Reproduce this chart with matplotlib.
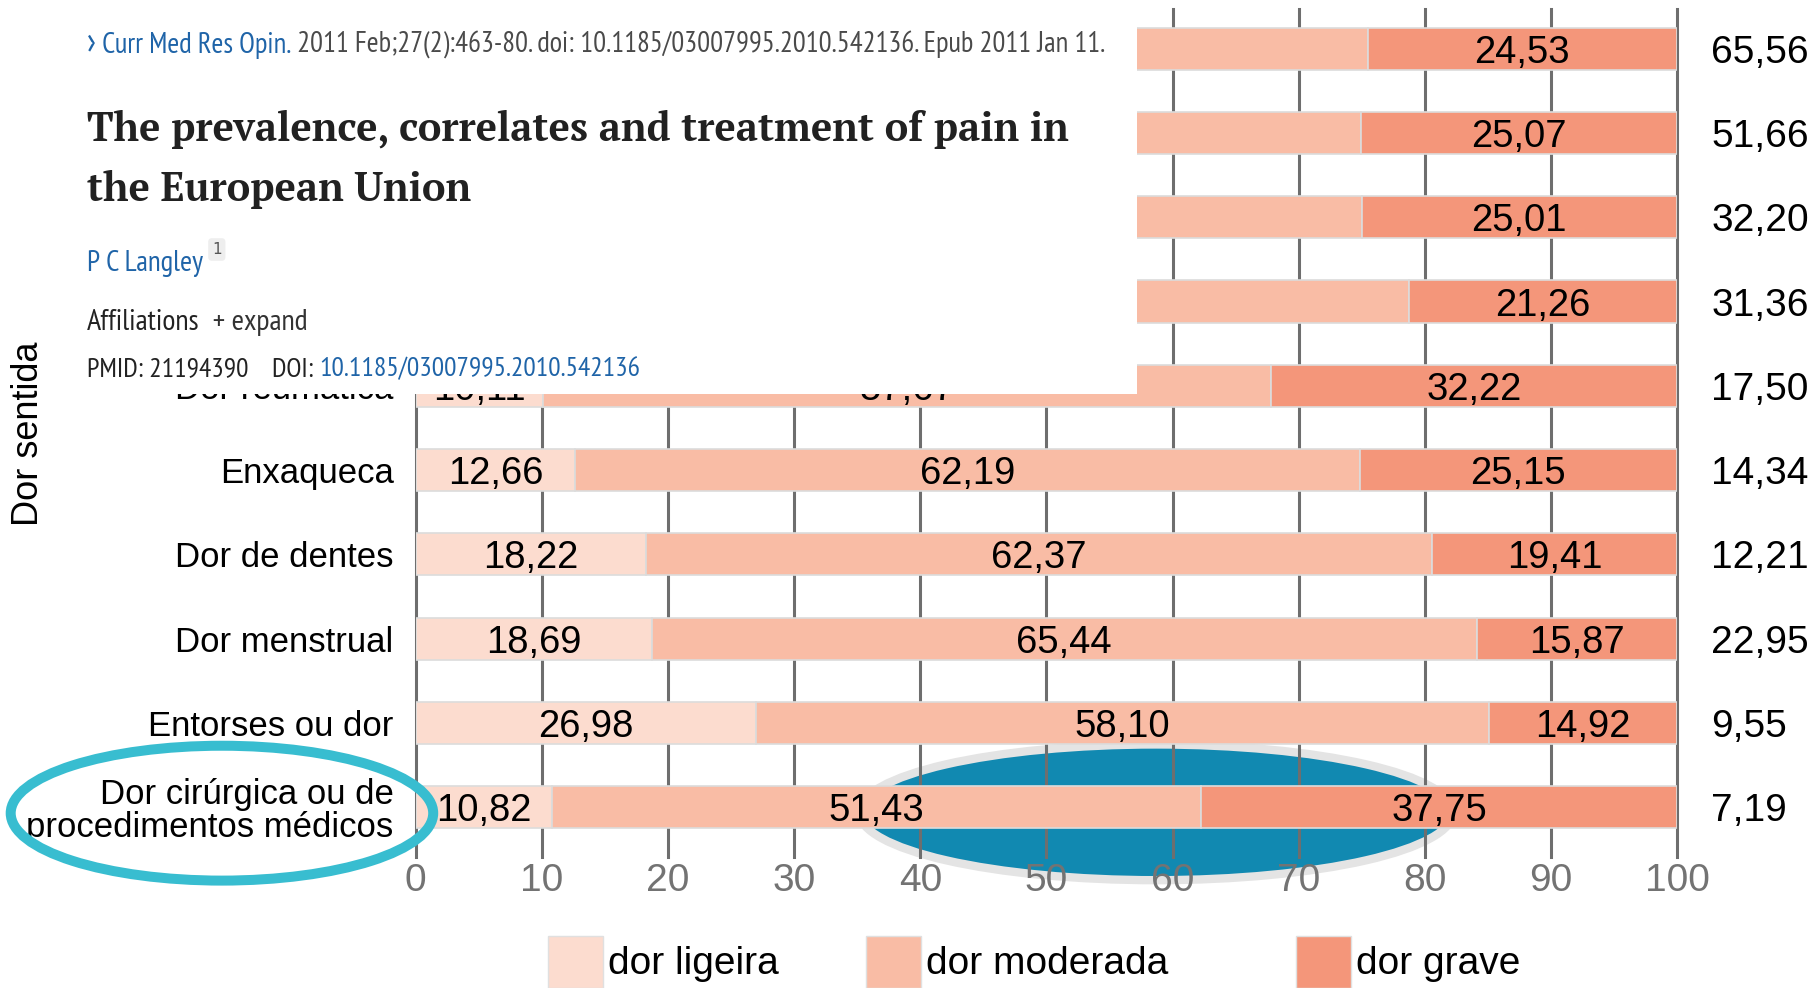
import matplotlib
matplotlib.use('Agg')
import matplotlib.pyplot as plt
from matplotlib.patches import Ellipse, Rectangle
from matplotlib import font_manager

plt.rcParams['font.family'] = ['Liberation Sans', 'DejaVu Sans']

# data
categories = ['Dor nas costas', 'Dor nas articulações', 'Dor de cabeça', 'Dor no pescoço',
              'Dor reumática', 'Enxaqueca', 'Dor de dentes', 'Dor menstrual',
              'Entorses ou dor', 'Dor cirúrgica ou de\nprocedimentos médicos']
ligeira = [16.00, 17.50, 15.50, 13.00, 10.11, 12.66, 18.22, 18.69, 26.98, 10.82]
moderada = [59.47, 57.43, 59.49, 65.74, 57.67, 62.19, 62.37, 65.44, 58.10, 51.43]
grave = [24.53, 25.07, 25.01, 21.26, 32.22, 25.15, 19.41, 15.87, 14.92, 37.75]
prevalencia = [65.56, 51.66, 32.20, 31.36, 17.50, 14.34, 12.21, 22.95, 9.55, 7.19]
series_names = ['dor ligeira', 'dor moderada', 'dor grave']
colors = ['#fcdccf', '#f9bca5', '#f4967a']
xticks = list(range(0, 101, 10))

# the top rows sit under the pasted citation box, only their right end shows
n_covered = 4
box_edge = 57.0


def fmt(v):
    return f'{v:.2f}'.replace('.', ',')


def pick(cands):
    for c in cands:
        try:
            font_manager.findfont(c, fallback_to_default=False)
            return c
        except ValueError:
            pass
    return 'DejaVu Sans'


W, H = 1816, 988
fig = plt.figure(figsize=(W / 100, H / 100), dpi=100)
ax = fig.add_axes([415.8 / W, 1 - 857 / H, (1677 - 415.8) / W, (857 - 9) / H])

rows = list(range(len(categories)))
left = [0] * len(categories)
for vals, c, name in zip([ligeira, moderada, grave], colors, series_names):
    bars = ax.barh(rows, vals, left=left, height=0.5, color=c, edgecolor='#dcdcdc',
                   linewidth=1.2, zorder=2, label=name)
    for i, (b, v) in enumerate(zip(bars, vals)):
        xc = b.get_x() + b.get_width() / 2
        if i < n_covered and xc < box_edge:
            continue
        ax.text(xc, b.get_y() + b.get_height() / 2, fmt(v),
                ha='center', va='center_baseline', fontsize=27.5, zorder=3)
    left = [l + v for l, v in zip(left, vals)]

for i, p in enumerate(prevalencia):
    ax.text(102.7, i, fmt(p), ha='left', va='center_baseline', fontsize=28, clip_on=False)

ax.set_xlim(0, 100)
ax.set_ylim(9.59, -0.47)
ax.set_xticks(xticks)
ax.set_yticks(rows, categories)
ax.tick_params(axis='x', length=0, pad=4, labelsize=28, labelcolor='#737373')
ax.tick_params(axis='y', length=0, pad=16, labelsize=25)
for i, lab in enumerate(ax.get_yticklabels()):
    lab.set_linespacing(1.0)
    if i < n_covered:
        lab.set_visible(False)
ax.set_axisbelow(True)
ax.grid(axis='x', color='#6e6e6e', linewidth=2.2)
for gl in ax.get_xgridlines():
    gl.set_clip_on(False)
for s in ax.spines.values():
    s.set_visible(False)

# highlight ellipses
ax.add_patch(Ellipse((58.7, 9.06), 47.1, 1.61, facecolor='#1189b1', edgecolor='#e4e4e4',
                     linewidth=6, zorder=0.2, clip_on=False))
ax.add_patch(Ellipse((-15.37, 9.07), 33.5, 1.60, facecolor='none', edgecolor='#38bdd0',
                     linewidth=7.2, zorder=5, clip_on=False))

fig.text(29 / W, 1 - 434 / H, 'Dor sentida', rotation=90, ha='center', va='center', fontsize=26)

# legend
for x0, c, name in zip([548, 866, 1296], colors, series_names):
    fig.add_artist(Rectangle((x0 / W, 0), 55 / W, 52 / H, transform=fig.transFigure,
                             facecolor=c, edgecolor='#e0e0e0', linewidth=1.0))
    fig.text((x0 + 60) / W, 1 - 964 / H, name, ha='left', va='center', fontsize=28)

# pasted citation box
box = fig.add_axes([55 / W, 1 - 394 / H, (1137 - 55) / W, 394 / H], zorder=10)
box.set_xlim(55, 1137)
box.set_ylim(394, 0)
box.set_xticks([])
box.set_yticks([])
for s in box.spines.values():
    s.set_visible(False)
box.set_facecolor('white')

blue = '#1f64a8'
grey = '#4a4a4a'
sans = pick(['PT Sans Narrow', 'Fira Sans Condensed', 'Roboto Condensed',
             'Open Sans Condensed', 'Archivo Narrow', 'DejaVu Sans'])
serif = pick(['PT Serif', 'Liberation Serif', 'DejaVu Serif'])


def chain(parts, x, y, size, **kw):
    out = []
    for s, c in parts:
        if not out:
            t = box.text(x, y, s, color=c, fontsize=size, ha='left', va='bottom', **kw)
        else:
            t = box.annotate(s, xy=(1, 0), xycoords=out[-1], color=c, fontsize=size,
                             ha='left', va='bottom', **kw)
        out.append(t)
    return out


def fit(parts, target):
    for _ in range(2):
        r = fig.canvas.get_renderer()
        x0 = parts[0].get_window_extent(r).x0
        x1 = parts[-1].get_window_extent(r).x1
        k = target / (x1 - x0)
        for t in parts:
            t.set_fontsize(t.get_fontsize() * k)


cond = dict(family=[sans, 'DejaVu Sans'])
l1 = chain([('›', blue), (' Curr Med Res Opin.', blue),
            (' 2011 Feb;27(2):463-80. doi: 10.1185/03007995.2010.542136. Epub 2011 Jan 11.', grey)],
           87, 59, 16, **cond)
t1 = box.text(87, 141, 'The prevalence, correlates and treatment of pain in', fontsize=30,
              fontweight='bold', family=[serif], color='#212121', va='baseline')
t2 = box.text(87, 201, 'the European Union', fontsize=30,
              fontweight='bold', family=[serif], color='#212121', va='baseline')
l3 = chain([('P C Langley', blue)], 87, 277, 17, **cond)
box.text(212, 254, '1', fontsize=11, color='#555555', family=['DejaVu Sans'],
         bbox=dict(boxstyle='round,pad=0.25', fc='#eeeeee', ec='none'))
l4 = chain([('Affiliations', '#222222'), ('  + expand', '#333333')], 87, 336, 17, **cond)
l5 = chain([('PMID: 21194390    DOI: ', '#222222'), ('10.1185/03007995.2010.542136', blue)],
           87, 381, 17, **cond)

fig.canvas.draw()
fit(l1, 1013)
l1[0].set_fontsize(l1[0].get_fontsize() * 1.3)
fit([t1], 984)
t2.set_fontsize(t1.get_fontsize())
fit(l3, 116)
fit(l4, 220)
fit(l5, 553)

fig.savefig('out.png', dpi=100)
